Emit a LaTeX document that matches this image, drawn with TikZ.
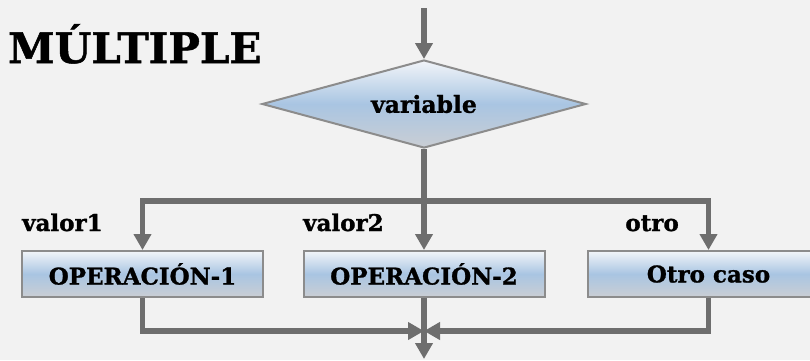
\documentclass[tikz,border=0pt]{standalone}
\usepackage{fontspec}
\setmainfont{DejaVu Serif}[BoldFeatures={FakeBold=1.2}]
\usetikzlibrary{arrows.meta,shapes.geometric}

\definecolor{bgcol}{HTML}{F2F2F2}
\definecolor{flowcol}{HTML}{6E6E6E}
\definecolor{edgecol}{HTML}{8C8C8C}
\definecolor{shtop}{HTML}{F2F5F9}
\definecolor{shmid}{HTML}{A9C5E2}
\definecolor{shbot}{HTML}{CACED4}

\tikzset{
  flow/.style={draw=flowcol, line width=5.5pt},
  flowarrow/.style={flow, -{Triangle[length=16pt,width=17pt]}},
  opbox/.style={draw=edgecol, line width=2pt, rectangle,
    minimum width=241pt, minimum height=46pt, inner sep=0pt,
    top color=shtop, bottom color=shbot, middle color=shmid,
    font=\fontsize{23}{26}\selectfont\bfseries},
  decision/.style={draw=edgecol, line width=2pt, diamond, aspect=3.68,
    minimum width=324pt, minimum height=88pt, inner sep=0pt,
    top color=shtop, bottom color=shbot, middle color=shmid,
    font=\fontsize{23.5}{26}\selectfont\bfseries},
  caselabel/.style={inner sep=0pt, font=\fontsize{23}{26}\selectfont\bfseries},
}

\begin{document}
\begin{tikzpicture}[x=1pt,y=-1pt]
  % canvas
  \fill[bgcol] (0,0) rectangle (810,360);
  \useasboundingbox (0,0) rectangle (810,360);

  % title
  \node[anchor=base west, inner sep=0pt, font=\fontsize{42}{46}\selectfont\bfseries]
    (title) at (8,63) {MÚLTIPLE};

  % decision and branches
  \coordinate (start) at (424,8);
  \node[decision] (var) at (424,104) {variable};
  \coordinate (split) at (424,201);

  \node[opbox] (op1) at (142.5,274) {OPERACIÓN-1};
  \node[opbox] (op2) at (424,274) {OPERACIÓN-2};
  \node[opbox] (op3) at (708.5,274) {Otro caso};

  \coordinate (merge) at (424,331);
  \coordinate (finish) at (424,359);

  % case labels
  \node[caselabel, anchor=base west] (l1) at (22,231) {valor1};
  \node[caselabel, anchor=base west] (l2) at (303,231) {valor2};
  \node[caselabel, anchor=base east] (l3) at (679,231) {otro};

  % connectors
  \draw[flowarrow] (start) -- (var.north);
  \draw[flowarrow] (var.south) -- (op2.north);
  \draw[flowarrow] (split) -| (op1.north);
  \draw[flowarrow] (split) -| (op3.north);
  \draw[flowarrow] (op1.south) |- (merge);
  \draw[flowarrow] (op3.south) |- (merge);
  \draw[flowarrow] (op2.south) -- (finish);
\end{tikzpicture}
\end{document}
